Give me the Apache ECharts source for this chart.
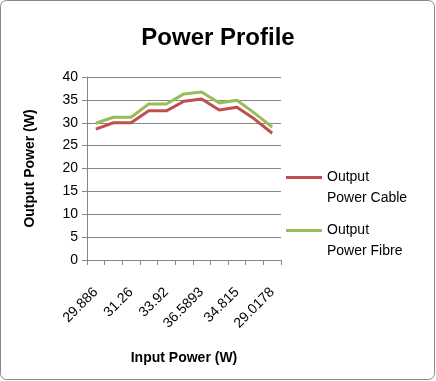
<!DOCTYPE html>
<html>
<head>
<meta charset="utf-8">
<script src="https://cdn.jsdelivr.net/npm/echarts@6/dist/echarts.min.js"></script>
<style>
body { margin: 0; background: #fff; }
#chart { width: 436px; height: 381px; }
</style>
</head>
<body>
<div id="chart"></div>
<script>
// input power categories (only every other one is labelled in the original)
const inputPower = ['29.886', '30.5', '31.26', '32.6', '33.92', '35.3', '36.5893', '35.7', '34.815', '32.0', '29.0178'];
const cableOut = [28.6, 30.0, 30.0, 32.6, 32.6, 34.7, 35.2, 32.8, 33.4, 30.8, 27.7];
const fibreOut = [29.9, 31.2, 31.2, 34.1, 34.1, 36.3, 36.7, 34.3, 34.9, 32.1, 29.05];
const yTicks = [0, 40, 5]; // min, max, step

const font = 'Liberation Sans, Arial, sans-serif';
const chart = echarts.init(document.getElementById('chart'));

const option = {
    animation: false,
    textStyle: { fontFamily: font },
    graphic: [{
        type: 'rect',
        shape: { x: 0.5, y: 0.5, width: 434, height: 379, r: 6 },
        style: { fill: 'none', stroke: '#888', lineWidth: 1 },
        silent: true
    }],
    title: {
        text: 'Power Profile',
        left: 'center',
        top: 21,
        textStyle: { fontSize: 24, fontWeight: 'bold', color: '#000', fontFamily: font }
    },
    grid: { left: 87, right: 155, top: 77, bottom: 121, containLabel: false },
    legend: {
        orient: 'vertical',
        left: 281,
        top: 141,
        itemWidth: 36,
        itemHeight: 3,
        itemGap: -10,
        icon: 'rect',
        // blank first line so the icon lines up with "Output"
        formatter: name => ' \n' + name,
        textStyle: { fontSize: 14, color: '#000', lineHeight: 21, fontFamily: font },
        data: ['Output\nPower Cable', 'Output\nPower Fibre']
    },
    xAxis: {
        type: 'category',
        data: inputPower,
        boundaryGap: true,
        name: 'Input Power (W)',
        nameLocation: 'middle',
        nameGap: 91,
        nameTextStyle: { fontSize: 14, fontWeight: 'bold', color: '#000', fontFamily: font },
        axisLine: { lineStyle: { color: '#868686' } },
        axisTick: { show: true, alignWithLabel: false, interval: 0, length: 5, lineStyle: { color: '#868686' } },
        axisLabel: { interval: 1, rotate: 45, fontSize: 14, color: '#000', margin: 30, fontFamily: font },
        splitLine: { show: false }
    },
    yAxis: {
        type: 'value',
        min: yTicks[0],
        max: yTicks[1],
        interval: yTicks[2],
        name: 'Output Power (W)',
        nameLocation: 'middle',
        nameGap: 50,
        nameTextStyle: { fontSize: 14, fontWeight: 'bold', color: '#000', fontFamily: font },
        axisLine: { show: true, lineStyle: { color: '#868686' } },
        axisTick: { show: true, inside: false, length: 5, lineStyle: { color: '#868686' } },
        axisLabel: { fontSize: 14, color: '#000', margin: 9, fontFamily: font },
        splitLine: { lineStyle: { color: '#868686' } }
    },
    series: [
        {
            name: 'Output\nPower Cable',
            type: 'line',
            data: cableOut,
            symbol: 'none',
            color: '#C0504D',
            lineStyle: { width: 3 }
        },
        {
            name: 'Output\nPower Fibre',
            type: 'line',
            data: fibreOut,
            symbol: 'none',
            color: '#9BBB59',
            lineStyle: { width: 3 }
        }
    ]
};
chart.setOption(option);
</script>
</body>
</html>
